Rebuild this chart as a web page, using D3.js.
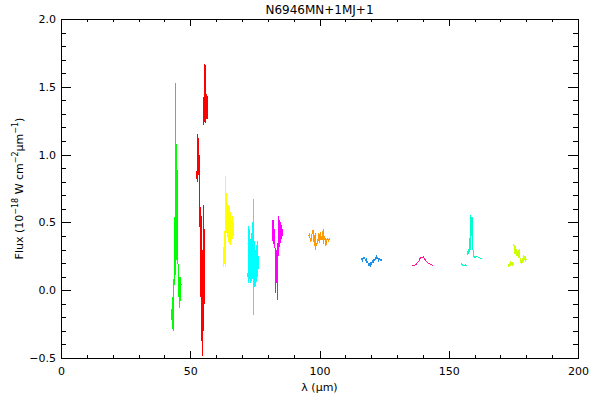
<!DOCTYPE html>
<html>
<head>
<meta charset="utf-8">
<script src="https://cdn.jsdelivr.net/npm/d3@7"></script>
<style>
  body { margin: 0; background: #fff; }
  svg text { font-family: "DejaVu Sans", "Liberation Sans", sans-serif; fill: #000; }
</style>
</head>
<body>
<svg id="chart" width="600" height="400"></svg>
<script>
// ---------------- data ----------------
const title = "N6946MN+1MJ+1";
const xTicks = [0, 50, 100, 150, 200];
const xTickLabels = ["0", "50", "100", "150", "200"];
const yTicks = [-0.5, 0.0, 0.5, 1.0, 1.5, 2.0];
const yTickLabels = ["\u22120.5", "0.0", "0.5", "1.0", "1.5", "2.0"];

// null marks a break between sub-segments
const greenLam  = [42.9, 43.0, 43.05, 43.1, 43.15, 43.2, 43.25, 43.3, 43.35, 43.4, 43.45, 43.5, 43.55, 43.6, 43.65, 43.7, 43.75, 43.8, 43.85, 43.9, 43.95, 44.0, 44.05, 44.1, 44.2, 44.25, 44.3, 44.35, 44.4, 44.45, 44.5, 44.55, 44.6, 44.65, 44.7, 44.75, 44.8, 44.85, 44.9, 44.95, 45.0, 45.05, 45.1, 45.15, 45.2, 45.3, 45.4, 45.5, 45.6, 45.7, 45.8, 45.9, 46.0, 46.1, 46.2, 46.3, 46.4, 46.5];
const greenFlux = [-0.22, -0.05, -0.26, -0.27, -0.08, -0.12, -0.28, -0.28, -0.02, 0.08, -0.25, -0.30, -0.05, -0.02, -0.22, -0.18, 0.32, 0.54, 0.34, 0.33, 0.52, 0.50, 0.33, 0.32, 1.53, 0.11, 0.70, 0.25, 0.22, 0.85, 0.92, 0.24, 0.26, 0.90, 1.08, 0.22, 0.25, 0.90, 0.88, 0.21, 0.23, 0.85, 0.75, 0.28, 0.30, 0.13, -0.05, 0.08, 0.06, -0.13, 0.10, 0.02, -0.10, 0.08, 0.10, -0.08, 0.05, 0.04];

const redLam  = [52.6, 52.7, 52.8, 52.9, 53.0, 53.1, 53.2, 53.3, 53.4, 53.5, 53.6, 53.7, 53.8, 53.9, 54.0, 54.05, 54.1, 54.15, 54.2, 54.25, 54.3, 54.35, 54.4, 54.45, 54.5, 54.55, 54.6, 54.65, 54.7, 54.75, 54.8, 54.85, 54.9, 54.95, 55.0, 55.05, 55.1, 55.15, 55.2, 55.25, 55.3, 55.35, 55.4, 55.5, 55.6, null, 55.3, 55.35, 55.4, 55.45, 55.5, 55.55, 55.6, 55.65, 55.7, 55.75, 55.8, 55.85, 55.9, 55.95, 56.0, 56.05, 56.1, 56.2, 56.3, 56.35, 56.4, 56.5, 56.6, 56.65, 56.7, 56.8];
const redFlux = [0.82, 1.15, 0.80, 1.10, 0.85, 1.12, 0.88, 1.05, 0.83, 1.00, 0.57, 0.90, 0.33, 0.36, 0.30, 0.55, 0.61, -0.05, -0.05, 0.50, 0.55, -0.09, -0.09, 0.45, 0.20, -0.37, -0.37, 0.30, 0.15, -0.48, -0.48, 0.25, 0.10, -0.30, -0.30, 0.50, 0.61, -0.08, -0.08, 0.55, 0.63, -0.05, -0.05, 0.45, -0.10, null, 1.22, 1.60, 1.65, 1.24, 1.25, 1.64, 1.67, 1.28, 1.30, 1.60, 1.62, 1.25, 1.23, 1.60, 1.66, 1.28, 1.30, 1.44, 1.45, 1.27, 1.26, 1.43, 1.42, 1.26, 1.27, 1.38];

const yellowLam  = [62.7, 62.8, 62.9, 63.0, 63.1, 63.2, 63.3, 63.4, 63.5, 63.6, 63.7, 63.8, 63.9, 64.0, 64.1, 64.2, 64.3, 64.4, 64.5, 64.6, 64.8, 64.9, 65.0, 65.2, 65.3, 65.5, 65.6, 65.8, 66.0, 66.2, 66.4, 66.6, 66.8];
const yellowFlux = [0.22, 0.17, 0.25, 0.18, 0.40, 0.20, 0.44, 0.19, 0.30, 0.17, 0.22, 0.84, 0.46, 0.68, 0.42, 0.66, 0.40, 0.60, 0.39, 0.64, 0.38, 0.55, 0.35, 0.62, 0.34, 0.58, 0.33, 0.52, 0.36, 0.55, 0.38, 0.50, 0.40];

const cyanLam  = [72.3, 72.4, 72.5, 72.6, 72.7, 72.8, 72.9, 73.0, 73.1, 73.2, 73.3, 73.4, 73.6, 73.7, 73.9, 74.0, 74.2, 74.35, 74.45, 74.6, 74.7, 74.9, 75.0, 75.2, 75.3, 75.5, 75.6, 75.8, 75.9, 76.1, 76.2, 76.4];
const cyanFlux = [0.10, 0.16, 0.05, 0.30, 0.47, 0.08, 0.40, 0.12, 0.45, 0.05, 0.38, 0.10, 0.42, 0.07, 0.35, 0.08, 0.30, 0.67, -0.18, 0.34, 0.02, 0.36, 0.05, 0.30, 0.03, 0.33, 0.06, 0.28, 0.10, 0.36, 0.15, 0.25];

const magentaLam  = [81.9, 82.0, 82.1, 82.2, 82.3, 82.4, 82.5, 82.6, 82.7, 82.8, 82.9, 83.0, 83.1, 83.2, 83.4, 83.5, 83.6, 83.8, 83.9, 84.0, 84.2, 84.3, 84.4, 84.6, 84.7, 84.9, 85.0, 85.2, 85.4, 85.6, 85.8];
const magentaFlux = [0.52, 0.36, 0.50, 0.38, 0.52, 0.34, 0.45, 0.32, 0.40, 0.30, 0.05, 0.28, -0.02, 0.30, 0.10, 0.28, -0.07, 0.35, 0.12, 0.36, 0.40, 0.55, 0.34, 0.52, 0.32, 0.50, 0.36, 0.48, 0.38, 0.45, 0.40];

const orangeLam  = [95.8, 96.1, 96.4, 96.7, 97.0, 97.2, 97.5, 97.8, 98.1, 98.3, 98.5, 98.8, 99.0, 99.2, 99.5, 99.8, 100.1, 100.3, 100.6, 100.9, 101.2, 101.4, 101.6, 101.9, 102.2, 102.5, 102.8, 103.1, 103.4, 103.8, 104.1];
const orangeFlux = [0.40, 0.41, 0.38, 0.36, 0.40, 0.43, 0.44, 0.36, 0.33, 0.42, 0.30, 0.35, 0.33, 0.38, 0.36, 0.42, 0.35, 0.43, 0.37, 0.40, 0.37, 0.45, 0.34, 0.40, 0.38, 0.33, 0.37, 0.38, 0.36, 0.38, 0.37];

const blueLam  = [116.0, 116.3, 116.6, 116.9, 117.2, 117.5, 117.8, 118.1, 118.4, 118.7, 119.0, 119.3, 119.6, 119.9, 120.2, 120.5, 120.8, 121.1, 121.4, 121.7, 122.0, 122.3, 122.6, 122.9, 123.2, 123.5, 123.8, 124.1];
const blueFlux = [0.22, 0.23, 0.22, 0.24, 0.23, 0.24, 0.22, 0.23, 0.20, 0.21, 0.18, 0.20, 0.17, 0.21, 0.19, 0.22, 0.20, 0.23, 0.22, 0.24, 0.25, 0.23, 0.24, 0.22, 0.23, 0.22, 0.225, 0.22];

const pinkLam  = [135.8, 136.3, 136.8, 137.3, 137.8, 138.3, 138.8, 139.2, 139.7, 140.2, 140.6, 141.0, 141.5, 142.0, 142.5, 143.0, 143.5, 143.9];
const pinkFlux = [0.18, 0.18, 0.185, 0.19, 0.20, 0.21, 0.23, 0.245, 0.24, 0.245, 0.235, 0.22, 0.21, 0.20, 0.195, 0.19, 0.185, 0.18];

const aquaLam  = [154.8, 155.0, 155.3, 155.6, 155.9, 156.2, 156.5, 156.8, 157.1, null, 157.3, 157.5, 157.7, 157.9, 158.1, 158.3, 158.5, 158.6, 158.8, 159.0, 159.2, 159.3, 159.5, 159.7, 160.0, 160.4, 160.8, 161.2, 161.6, 162.0, 162.4, 162.9];
const aquaFlux = [0.20, 0.19, 0.185, 0.18, 0.185, 0.18, 0.185, 0.18, 0.185, null, 0.26, 0.30, 0.27, 0.32, 0.28, 0.45, 0.30, 0.555, 0.40, 0.54, 0.42, 0.32, 0.27, 0.25, 0.24, 0.245, 0.25, 0.245, 0.24, 0.24, 0.235, 0.235];

const limeLam  = [173.0, 173.2, 173.4, 173.7, 173.9, 174.2, 174.5, 174.8, 175.0, null, 175.2, 175.4, 175.6, 175.9, 176.1, 176.4, 176.7, 176.9, 177.2, 177.5, 177.7, 177.9, 178.2, 178.4, 178.7, 178.9, 179.2, 179.5, 179.8, 180.1];
const limeFlux = [0.19, 0.17, 0.20, 0.18, 0.215, 0.19, 0.21, 0.18, 0.20, null, 0.34, 0.27, 0.33, 0.27, 0.30, 0.25, 0.29, 0.24, 0.30, 0.26, 0.20, 0.23, 0.19, 0.24, 0.20, 0.26, 0.22, 0.25, 0.22, 0.23];

// ---------------- styles ----------------
const seriesList = [
  { lam: greenLam,   flux: greenFlux,   color: "#00ff00" },
  { lam: redLam,     flux: redFlux,     color: "#ff0000" },
  { lam: yellowLam,  flux: yellowFlux,  color: "#ffff00" },
  { lam: cyanLam,    flux: cyanFlux,    color: "#00ffff" },
  { lam: magentaLam, flux: magentaFlux, color: "#ff00ff" },
  { lam: orangeLam,  flux: orangeFlux,  color: "#ff9900" },
  { lam: blueLam,    flux: blueFlux,    color: "#1e90e8" },
  { lam: pinkLam,    flux: pinkFlux,    color: "#ff1493" },
  { lam: aquaLam,    flux: aquaFlux,    color: "#00ffcc" },
  { lam: limeLam,    flux: limeFlux,    color: "#ccff00" }
];

// ---------------- layout ----------------
const W = 600, H = 400;
const m = { left: 61, right: 22, top: 19, bottom: 42 };
const pw = W - m.left - m.right, ph = H - m.top - m.bottom;

const svg = d3.select("#chart");
const g = svg.append("g").attr("transform", `translate(${m.left},${m.top})`);

const x = d3.scaleLinear().domain([0, 200]).range([0, pw]);
const y = d3.scaleLinear().domain([-0.5, 2.0]).range([ph, 0]);

// data lines
const line = d3.line()
  .defined(d => d[0] != null && d[1] != null)
  .x(d => x(d[0])).y(d => y(d[1]));

seriesList.forEach(s => {
  const pts = s.lam.map((l, i) => [l, s.flux[i]]);
  g.append("path")
    .attr("d", line(pts))
    .attr("fill", "none")
    .attr("stroke", s.color)
    .attr("stroke-width", 1)
    .attr("shape-rendering", "crispEdges");
});

// axes (IDL style: inward ticks on all four sides)
const majX = 0.02 * ph, minX = 0.01 * ph;
const majY = 0.02 * pw, minY = 0.01 * pw;
const xMinor = d3.range(0, 201, 10).filter(v => !xTicks.includes(v));
const yMinor = d3.range(-5, 21, 1).map(v => v / 10).filter(v => !yTicks.some(t => Math.abs(t - v) < 1e-9));

function styleAxis(sel) {
  sel.selectAll("path, line").attr("stroke", "#000").attr("shape-rendering", "crispEdges");
  sel.selectAll("text").attr("font-size", 11).attr("fill", "#000")
     .style("font-family", "'DejaVu Sans', sans-serif");
}

// bottom
g.append("g").attr("transform", `translate(0,${ph})`)
  .call(d3.axisBottom(x).tickValues(xTicks).tickSizeInner(-majX).tickSizeOuter(0)
        .tickPadding(9).tickFormat((d, i) => xTickLabels[i]))
  .call(styleAxis);
g.append("g").attr("transform", `translate(0,${ph})`)
  .call(d3.axisBottom(x).tickValues(xMinor).tickSizeInner(-minX).tickSizeOuter(0).tickFormat(""))
  .call(styleAxis);
// top
g.append("g")
  .call(d3.axisTop(x).tickValues(xTicks).tickSizeInner(-majX).tickSizeOuter(0).tickFormat(""))
  .call(styleAxis);
g.append("g")
  .call(d3.axisTop(x).tickValues(xMinor).tickSizeInner(-minX).tickSizeOuter(0).tickFormat(""))
  .call(styleAxis);
// left
g.append("g")
  .call(d3.axisLeft(y).tickValues(yTicks).tickSizeInner(-majY).tickSizeOuter(0)
        .tickPadding(5).tickFormat((d, i) => yTickLabels[i]))
  .call(styleAxis);
g.append("g")
  .call(d3.axisLeft(y).tickValues(yMinor).tickSizeInner(-minY).tickSizeOuter(0).tickFormat(""))
  .call(styleAxis);
// right
g.append("g").attr("transform", `translate(${pw},0)`)
  .call(d3.axisRight(y).tickValues(yTicks).tickSizeInner(-majY).tickSizeOuter(0).tickFormat(""))
  .call(styleAxis);
g.append("g").attr("transform", `translate(${pw},0)`)
  .call(d3.axisRight(y).tickValues(yMinor).tickSizeInner(-minY).tickSizeOuter(0).tickFormat(""))
  .call(styleAxis);

// frame
g.append("rect").attr("width", pw).attr("height", ph)
  .attr("fill", "none").attr("stroke", "#000").attr("shape-rendering", "crispEdges");

// title
svg.append("text").attr("x", m.left + pw / 2).attr("y", 14)
  .attr("text-anchor", "middle").attr("font-size", 12).text(title);

// x label
const xl = svg.append("text").attr("x", m.left + pw / 2).attr("y", 391)
  .attr("text-anchor", "middle").attr("font-size", 11);
xl.append("tspan").text("\u03bb (\u03bcm)");

// y label
const yl = svg.append("text")
  .attr("transform", `translate(23,${m.top + ph / 2}) rotate(-90)`)
  .attr("text-anchor", "middle").attr("font-size", 11);
yl.append("tspan").text("Flux (10");
yl.append("tspan").attr("dy", -5).attr("font-size", 8).text("\u221218");
yl.append("tspan").attr("dy", 5).text(" W cm");
yl.append("tspan").attr("dy", -5).attr("font-size", 8).text("\u22122");
yl.append("tspan").attr("dy", 5).text("\u03bcm");
yl.append("tspan").attr("dy", -5).attr("font-size", 8).text("\u22121");
yl.append("tspan").attr("dy", 5).text(")");
</script>
</body>
</html>
